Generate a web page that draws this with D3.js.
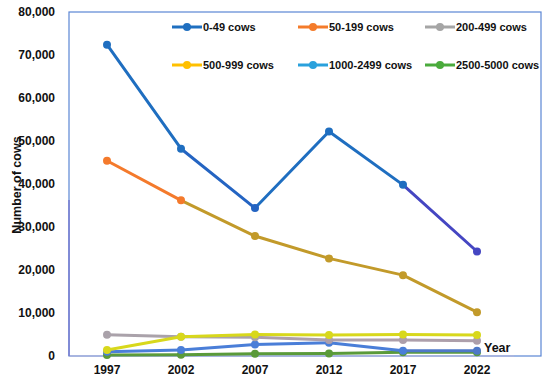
<!DOCTYPE html>
<html><head><meta charset="utf-8">
<script src="https://cdn.jsdelivr.net/npm/d3@7"></script>
<style>
body{margin:0;background:#fff;}
text{font-family:"Liberation Sans",Arial,sans-serif;font-weight:bold;fill:#111;}
</style></head>
<body><svg id="c" width="550" height="383"></svg>
<script>
const years = ["1997","2002","2007","2012","2017","2022"];
const seriesNames = ["0-49 cows","50-199 cows","200-499 cows","500-999 cows","1000-2499 cows","2500-5000 cows"];
const v0_49 = [72400, 48200, 34400, 52200, 39800, 24300];
const v50_199 = [45400, 36200, 27900, 22700, 18800, 10200];
const v200_499 = [4950, 4500, 4350, 3700, 3700, 3550];
const v500_999 = [1400, 4500, 5000, 4900, 5000, 4900];
const v1000_2499 = [1000, 1400, 2700, 3100, 1200, 1200];
const v2500_5000 = [250, 300, 500, 600, 900, 900];
const yTicks = [0,10000,20000,30000,40000,50000,60000,70000,80000];

const allValues = [v0_49, v50_199, v200_499, v500_999, v1000_2499, v2500_5000];
const legendColors = ["#1f6fc0","#f47b2a","#a5a5a5","#ffc000","#2aa1dc","#4aab3c"];
// colors the lines show in the plot, per segment
const segColors = [
  ["#1f6ec0","#2464c2","#1f6ec0","#1f6ec0","#4546c2"],
  ["#f47a2c","#c29a2a","#c29a2a","#c29a2a","#c29a2a"],
  ["#aaa2aa","#aaa2aa","#ad9fab","#ad9fab","#ad9fab"],
  ["#d8d81c","#d8d81c","#d8d81c","#d8d81c","#d8d81c"],
  ["#4a7ed8","#4a7ed8","#4a7ed8","#4a7ed8","#4e78c8"],
  ["#5a9a3a","#5a9a3a","#5a9a3a","#5a9a3a","#5a9a3a"]
];

const svg = d3.select("#c");
const x = d3.scaleBand().domain(years).range([70,514]);
const y = d3.scaleLinear().domain([0,80000]).range([356,12]);
const cx = d => x(d) + x.bandwidth()/2;

// frame
svg.append("rect").attr("x",69).attr("y",12).attr("width",472).attr("height",344)
  .attr("fill","none").attr("stroke","#5b86d4").attr("stroke-width",1.2);
svg.append("line").attr("x1",69).attr("x2",514).attr("y1",356).attr("y2",356)
  .attr("stroke","#b4b4dc").attr("stroke-width",1.2);
svg.append("line").attr("x1",69).attr("x2",69).attr("y1",200).attr("y2",356)
  .attr("stroke","#7070cc").attr("stroke-width",1.2);

// y axis labels
const yAxis = d3.axisLeft(y).tickValues(yTicks).tickSize(0).tickPadding(0)
  .tickFormat(d3.format(","));
const gy = svg.append("g").attr("transform","translate(55,0)").call(yAxis);
gy.select(".domain").remove();
gy.selectAll("text").style("font-size","12px").style("font-family","Liberation Sans, Arial, sans-serif").style("font-weight","bold").attr("fill","#111");

// x axis labels
const xAxis = d3.axisBottom(x).tickSize(0).tickPadding(0);
const gx = svg.append("g").attr("transform","translate(0,365)").call(xAxis);
gx.select(".domain").remove();
gx.selectAll("text").style("font-size","12px").style("font-family","Liberation Sans, Arial, sans-serif").style("font-weight","bold").attr("fill","#111");

svg.append("text").attr("x",484).attr("y",352).style("font-size","12.5px").text("Year");
svg.append("text").attr("transform","translate(21,185) rotate(-90)").attr("text-anchor","middle")
  .style("font-size","12.5px").text("Number of cows");

// lines
const order = [5,4,2,3,1,0];
order.forEach(i => {
  const vals = allValues[i];
  const g = svg.append("g");
  for (let k=0;k<vals.length-1;k++){
    g.append("line").attr("x1",cx(years[k])).attr("y1",y(vals[k]))
      .attr("x2",cx(years[k+1])).attr("y2",y(vals[k+1]))
      .attr("stroke",segColors[i][k]).attr("stroke-width",3).attr("stroke-linecap","round");
  }
  g.selectAll("circle").data(vals).join("circle")
    .attr("cx",(d,k)=>cx(years[k])).attr("cy",d=>y(d)).attr("r",4)
    .attr("fill",(d,k)=> k===0 ? segColors[i][0] : segColors[i][k-1]);
});

// legend
const colX = [172, 298, 425];
const rowY = [27, 65];
seriesNames.forEach((name,i) => {
  const lx = colX[i%3], ly = rowY[Math.floor(i/3)];
  const g = svg.append("g");
  g.append("line").attr("x1",lx).attr("x2",lx+30).attr("y1",ly).attr("y2",ly)
    .attr("stroke",legendColors[i]).attr("stroke-width",3);
  g.append("circle").attr("cx",lx+15).attr("cy",ly).attr("r",4).attr("fill",legendColors[i]);
  g.append("text").attr("x",lx+31).attr("y",ly+4).style("font-size","11px").text(name);
});
</script></body></html>
